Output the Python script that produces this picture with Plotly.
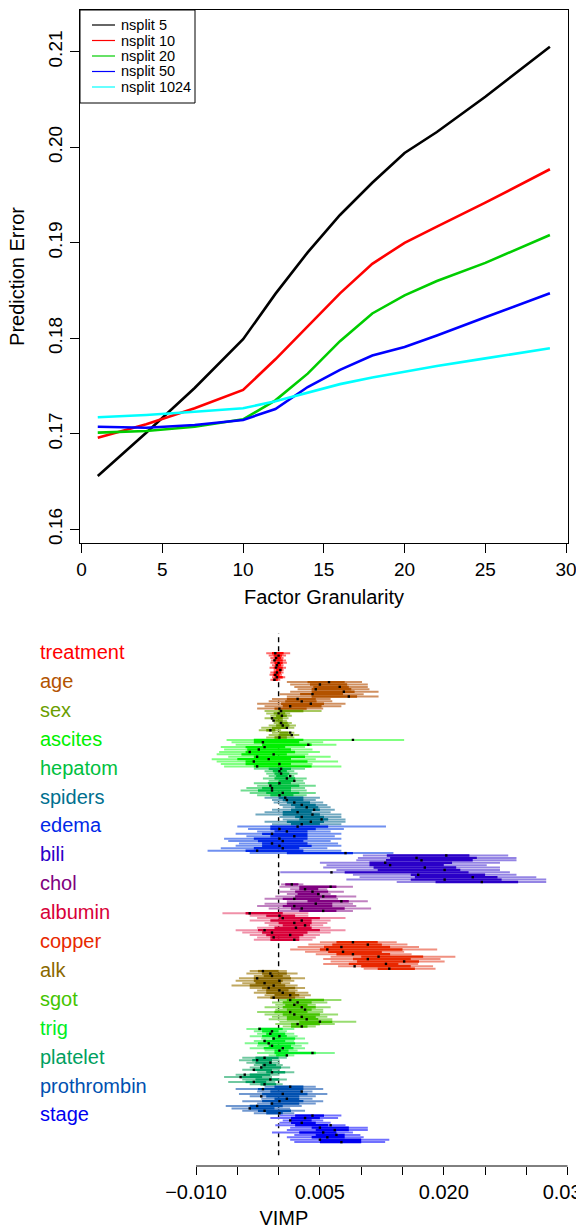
import plotly.graph_objects as go

FONT = "Liberation Sans, Arial, Helvetica, sans-serif"

# ---------------- Top panel: prediction error vs factor granularity ----------------
granularity    = [1, 4, 7, 10, 12, 14, 16, 18, 20, 22, 25, 29]
err_nsplit5    = [0.16558, 0.17010, 0.17480, 0.17990, 0.18465, 0.18900, 0.19291, 0.19629, 0.19940, 0.20160, 0.20530, 0.21053]
err_nsplit10   = [0.16959, 0.17099, 0.17267, 0.17459, 0.17780, 0.18130, 0.18470, 0.18780, 0.19000, 0.19170, 0.19420, 0.19770]
err_nsplit20   = [0.17012, 0.17029, 0.17074, 0.17152, 0.17350, 0.17630, 0.17970, 0.18260, 0.18450, 0.18600, 0.18790, 0.19082]
err_nsplit50   = [0.17074, 0.17064, 0.17092, 0.17145, 0.17260, 0.17490, 0.17670, 0.17820, 0.17910, 0.18030, 0.18220, 0.18471]
err_nsplit1024 = [0.17173, 0.17197, 0.17231, 0.17267, 0.17340, 0.17430, 0.17520, 0.17590, 0.17650, 0.17710, 0.17790, 0.17895]
series_names   = ["nsplit 5", "nsplit 10", "nsplit 20", "nsplit 50", "nsplit 1024"]
series_values  = [err_nsplit5, err_nsplit10, err_nsplit20, err_nsplit50, err_nsplit1024]
series_colors  = ["#000000", "#FF0000", "#00CD00", "#0000FF", "#00FFFF"]
top_xticks     = [0, 5, 10, 15, 20, 25, 30]
top_yticks     = [0.16, 0.17, 0.18, 0.19, 0.20, 0.21]

# ---------------- Bottom panel: VIMP intervals ----------------
# each row: (lower, core lower, estimate, core upper, upper), in units of 1e-3
VIMP_UNIT = 1e-3
vimp_vars = ["treatment", "age", "sex", "ascites", "hepatom", "spiders", "edema", "bili",
             "chol", "albumin", "copper", "alk", "sgot", "trig", "platelet", "prothrombin", "stage"]
core_colors  = ["#FF0000", "#B35300", "#6B9E00", "#00F000", "#00C040", "#00708F", "#0028E8", "#2A00C8",
                "#800080", "#D80038", "#E82800", "#8A6800", "#44C400", "#00EE22", "#00A060", "#0050B0", "#0000F0"]
light_colors = ["#FF6A6A", "#D09060", "#A8C860", "#80FF80", "#70DC90", "#70A8C0", "#7090F0", "#9484E4",
                "#C080C0", "#F090A8", "#F09080", "#C0A860", "#98DC70", "#80F890", "#70C8A0", "#7098D0", "#7070FF"]

treatment = [(-1.5, -0.8, -0.4, 0.6, 1.4), (-1.2, -0.6, 0.0, 0.4, 0.9), (-1.0, -0.5, -0.3, 0.3, 0.6),
             (-0.9, -0.6, -0.5, 0.5, 0.9), (-1.0, -0.5, 0.0, 0.5, 1.0), (-0.8, -0.4, -0.2, 0.3, 0.6),
             (-1.1, -0.6, -0.3, 0.5, 0.9), (-0.6, -0.3, 0.2, 0.4, 0.6), (-1.0, -0.6, -0.2, 0.3, 0.6),
             (-1.1, -0.7, -0.4, 0.1, 0.4), (-0.8, -0.5, -0.2, 0.5, 0.8), (-1.0, -0.7, -0.5, -0.1, 0.2)]
age = [(1.0, 3.5, 6.1, 8.0, 10.1), (1.4, 3.8, 5.0, 8.3, 10.8), (1.9, 4.2, 7.4, 8.5, 10.8),
       (2.3, 4.0, 4.5, 8.8, 11.0), (1.4, 4.0, 7.9, 9.2, 12.1), (0.1, 2.6, 4.1, 7.8, 10.3),
       (1.0, 4.0, 8.5, 9.5, 12.1), (-0.8, 1.0, 2.3, 4.5, 6.3), (-1.2, 0.8, 2.8, 4.6, 6.5),
       (-2.6, 0.3, 3.9, 5.5, 8.1), (-1.7, 0.5, 1.4, 5.2, 7.6), (-2.6, -0.5, 0.1, 3.4, 5.4)]
sex = [(-1.7, 0.0, 0.3, 3.0, 5.2), (-1.5, -0.6, 0.0, 0.8, 1.4), (-1.0, -0.3, 0.4, 1.0, 1.6),
       (-1.7, -0.9, -0.8, 0.5, 1.2), (-0.8, -0.4, -0.6, 0.5, 1.0), (-0.6, 0.0, 0.3, 1.1, 1.6),
       (-1.2, -0.3, 0.5, 1.3, 2.1), (-2.1, -0.8, 1.0, 0.9, 1.9), (-2.4, -1.5, -1.0, -0.4, 0.3),
       (-0.8, 0.1, 1.4, 1.2, 1.9), (-1.2, 0.0, 1.6, 1.6, 2.5), (-1.5, -0.5, 0.1, 1.0, 1.9)]
ascites = [(-6.3, -3.0, 9.0, 3.0, 15.2), (-5.7, -3.0, -1.9, 2.5, 5.4), (-5.2, -2.0, 3.6, 4.0, 7.0),
           (-7.0, -4.0, -1.7, 0.8, 3.2), (-6.6, -3.8, -2.4, 1.5, 4.1), (-7.2, -4.0, -3.5, 2.0, 5.0),
           (-7.5, -4.5, -0.6, 1.0, 3.6), (-6.1, -3.0, -2.6, 3.2, 6.3), (-8.1, -5.0, -1.2, 1.5, 4.5),
           (-7.5, -4.0, -3.0, 3.5, 7.2), (-7.0, -4.0, 0.1, 1.5, 4.1), (-6.6, -3.0, -2.6, 4.0, 7.6)]
hepatom = [(-3.0, -1.2, 0.3, 1.5, 3.2), (-1.7, -0.7, 0.1, 1.0, 1.9), (-1.5, -0.5, 0.3, 1.3, 2.3),
           (-1.2, -0.3, 1.4, 1.1, 1.9), (-1.9, -0.5, 1.0, 2.0, 3.4), (-1.2, 0.0, 1.9, 1.8, 3.0),
           (-3.0, -1.3, 0.1, 1.5, 3.2), (-2.6, -1.0, -1.0, 2.5, 4.5), (-3.9, -2.0, -0.8, 1.5, 3.2),
           (-4.6, -2.5, -0.8, 1.5, 3.4), (-3.5, -1.5, 0.5, 2.5, 4.5), (-2.6, -1.0, 0.1, 1.8, 3.4)]
spiders = [(-1.7, 0.0, 0.8, 3.0, 5.0), (-0.8, 0.5, 1.0, 3.0, 4.5), (-0.6, 1.0, 1.9, 3.8, 5.4),
           (0.1, 1.5, 2.8, 4.5, 5.9), (0.5, 2.0, 3.4, 4.8, 6.3), (-0.8, 1.5, 4.3, 5.0, 6.8),
           (-1.7, 0.5, 2.3, 4.0, 6.3), (-2.8, 0.5, 4.1, 5.0, 7.6), (0.1, 2.0, 2.8, 5.5, 7.6),
           (0.5, 2.5, 5.2, 6.0, 8.1), (-1.7, 1.0, 3.9, 5.5, 8.1), (-0.8, 1.5, 2.8, 5.0, 7.6)]
edema = [(-5.0, -1.0, 2.3, 6.0, 13.0), (-3.7, -1.0, 0.1, 4.5, 7.9), (-2.6, -0.5, 1.0, 3.5, 6.3),
         (-5.2, -2.0, -0.8, 3.5, 7.6), (-3.9, -1.0, 1.9, 3.5, 6.8), (-6.6, -3.0, 0.1, 3.5, 7.6),
         (-6.1, -2.5, 0.5, 3.0, 6.3), (-4.8, -2.0, -0.8, 3.5, 7.2), (-5.2, -2.0, 0.1, 4.0, 7.6),
         (-7.0, -3.0, 0.5, 2.5, 5.9), (-8.6, -4.0, -2.6, 3.0, 7.6), (-3.5, 1.0, 8.1, 9.0, 13.9)]
bili = [(10.2, 13.1, 20.3, 23.1, 27.8), (9.6, 13.5, 16.7, 24.0, 28.8), (9.4, 13.0, 17.3, 23.5, 28.8),
        (5.0, 11.0, 12.9, 21.0, 26.8), (5.8, 11.0, 13.5, 20.0, 25.2), (5.4, 11.5, 17.7, 21.5, 26.8),
        (7.0, 12.0, 20.1, 22.0, 26.8), (0.2, 8.0, 6.4, 23.0, 28.0), (9.0, 16.0, 16.9, 25.0, 28.8),
        (9.8, 16.5, 23.5, 26.5, 31.2), (8.2, 16.0, 20.1, 27.0, 32.4), (14.3, 19.0, 24.6, 29.0, 32.4)]
chol = [(0.3, 0.8, 1.6, 2.4, 3.0), (0.1, 2.5, 6.3, 7.0, 9.0), (1.4, 2.5, 3.2, 4.8, 5.9),
        (0.1, 2.0, 4.1, 6.0, 7.9), (1.0, 2.3, 4.8, 5.0, 6.3), (-0.4, 2.0, 5.4, 7.0, 9.4),
        (-1.7, 0.5, 1.9, 5.0, 7.2), (1.0, 3.5, 7.6, 8.5, 10.8), (-1.7, 1.0, 4.5, 6.5, 9.0),
        (-2.6, 0.5, 1.9, 6.5, 9.4), (-1.2, 1.5, 2.8, 8.0, 11.2), (0.1, 2.5, 5.4, 7.0, 9.0)]
albumin = [(-6.8, -4.0, -3.5, 0.5, 3.6), (-3.5, -1.5, 0.1, 2.0, 3.6), (-2.6, 0.0, 0.5, 5.0, 8.1),
           (-3.5, -1.0, 2.8, 4.0, 6.3), (-1.7, 0.0, 1.9, 4.0, 5.9), (-1.2, 0.5, 3.2, 3.8, 5.4),
           (-2.6, -0.5, 2.1, 4.0, 6.3), (-5.2, -2.5, -1.7, 5.0, 8.1), (-4.4, -2.0, -0.8, 3.5, 6.3),
           (-3.5, -1.5, 1.4, 3.0, 5.0), (-2.6, -1.0, -0.6, 2.5, 4.5), (-3.0, -1.0, 1.9, 2.5, 4.1)]
copper = [(5.0, 7.0, 9.0, 12.0, 14.3), (3.6, 6.5, 10.8, 12.5, 15.6), (2.3, 5.5, 7.6, 13.5, 17.0),
          (1.4, 5.0, 5.9, 15.0, 19.2), (3.2, 6.0, 7.8, 12.5, 15.2), (4.5, 7.0, 9.0, 13.5, 16.1),
          (6.3, 10.0, 12.1, 17.5, 21.4), (5.4, 9.0, 10.8, 16.0, 19.6), (6.3, 9.5, 15.2, 17.0, 20.1),
          (5.4, 8.5, 13.0, 14.5, 16.9), (7.2, 10.0, 9.2, 16.0, 18.7), (10.3, 12.0, 13.4, 16.5, 19.0)]
alk = [(-3.5, -2.5, -1.9, 0.0, 1.0), (-3.9, -2.0, -1.0, 1.0, 2.3), (-3.0, -1.8, -0.8, 0.5, 1.4),
       (-4.8, -3.0, -2.6, 1.5, 3.2), (-5.2, -3.0, 0.1, 0.5, 1.9), (-4.4, -2.8, -1.7, 0.3, 1.4),
       (-5.7, -3.5, -0.6, 0.8, 2.3), (-3.5, -2.0, -1.2, 2.0, 3.2), (-2.6, -1.5, 0.1, 1.2, 2.3),
       (-3.0, -1.5, 0.5, 2.0, 3.6), (-1.7, -0.5, 1.4, 2.5, 3.9), (-2.6, -1.0, -0.6, 2.0, 3.2)]
sgot = [(0.1, 1.0, 1.4, 5.5, 7.6), (-0.8, 0.5, 2.3, 4.0, 5.9), (-0.4, 0.8, 1.9, 3.5, 4.5),
        (-1.7, 0.5, 2.8, 4.5, 6.3), (-0.4, 1.0, 3.2, 4.0, 5.4), (-2.6, -0.5, 1.4, 3.5, 5.4),
        (-1.7, 0.5, 1.9, 5.0, 7.2), (-0.8, 1.0, 2.8, 4.5, 5.9), (-1.2, 1.0, 3.4, 4.8, 6.5),
        (0.1, 2.5, 5.0, 6.5, 9.4), (-0.4, 1.5, 2.3, 5.0, 6.8), (0.5, 1.5, 2.8, 3.5, 4.5)]
trig = [(-3.9, -2.5, -2.3, 0.5, 1.9), (-3.0, -2.0, -0.8, 0.0, 1.0), (-2.6, -1.5, -1.0, 0.8, 1.9),
        (-3.5, -2.0, 0.1, 1.0, 2.3), (-2.1, -0.8, -0.6, 2.0, 3.2), (-3.0, -1.8, -1.7, 0.8, 1.9),
        (-4.1, -2.5, -1.2, 2.0, 3.6), (-2.6, -1.2, -0.8, 1.5, 2.8), (-3.5, -1.8, 0.5, 1.8, 3.2),
        (-1.7, -0.5, 0.1, 1.2, 2.3), (-2.6, -0.5, 4.1, 4.5, 6.8), (-1.2, -0.3, 1.0, 1.0, 1.9)]
platelet = [(-4.4, -2.8, -1.7, 0.0, 1.0), (-4.8, -3.2, -2.6, -0.8, 0.1), (-3.9, -2.8, -1.0, -0.8, 0.1),
            (-3.0, -2.0, -1.7, -0.3, 0.5), (-3.5, -2.2, -2.1, 0.3, 1.4), (-4.4, -3.0, -3.0, -0.8, 0.1),
            (-2.6, -1.5, -0.8, 0.8, 1.9), (-5.2, -3.5, -4.1, -1.0, 0.1), (-6.6, -4.5, -4.6, -2.0, -0.8),
            (-4.4, -2.8, -1.0, 0.0, 1.0), (-6.1, -4.0, -3.0, -1.5, -0.4), (-3.5, -2.2, -1.7, -0.3, 0.5)]
prothrombin = [(-1.7, -0.5, 1.4, 3.0, 4.5), (-5.2, -2.5, -1.9, 3.0, 5.4), (-2.6, -1.0, 2.8, 2.8, 4.1),
               (-4.8, -2.0, 0.5, 3.5, 5.9), (-3.5, -1.5, -2.1, 2.5, 4.5), (-2.1, -0.5, 1.0, 2.5, 4.1),
               (-4.4, -2.0, 0.1, 3.0, 5.4), (-2.6, -1.0, -0.8, 2.5, 4.5), (-6.4, -3.5, -2.6, 0.5, 2.8),
               (-5.7, -3.5, -3.5, -0.5, 1.4), (-4.4, -2.5, -1.7, 1.5, 3.2), (-3.0, -1.5, 0.1, 0.5, 1.9)]
stage = [(0.1, 2.0, 4.1, 5.5, 7.6), (-1.0, 1.5, 3.2, 5.0, 7.2), (0.5, 1.5, 1.4, 4.0, 5.4),
         (0.1, 1.5, 2.8, 4.5, 6.3), (-0.4, 2.0, 6.3, 6.0, 8.1), (1.4, 4.0, 5.0, 8.5, 10.8),
         (1.0, 4.5, 6.8, 8.5, 10.8), (-0.8, 2.5, 5.4, 7.0, 9.0), (1.9, 4.5, 7.0, 8.0, 9.9),
         (1.0, 4.0, 5.9, 8.0, 10.3), (1.4, 5.0, 5.0, 10.0, 13.4), (1.9, 5.0, 7.6, 10.0, 12.9)]
vimp_rows = [treatment, age, sex, ascites, hepatom, spiders, edema, bili,
             chol, albumin, copper, alk, sgot, trig, platelet, prothrombin, stage]
vimp_ticks      = [-0.010, -0.005, 0.000, 0.005, 0.010, 0.015, 0.020, 0.025, 0.030, 0.035]
vimp_ticklabels = ["\u22120.010", "", "", "0.005", "", "", "0.020", "", "", "0.035"]

# ---------------- layout geometry (pixels of the 576 x 1230 page) ----------------
W, H = 576, 1230
def px_x(p): return p / W
def px_y(p): return 1 - p / H

fig = go.Figure()

# top panel lines
for name, vals, col in zip(series_names, series_values, series_colors):
    fig.add_trace(go.Scatter(x=granularity, y=vals, mode="lines", name=name,
                             line=dict(color=col, width=2.6), showlegend=False,
                             xaxis="x", yaxis="y"))

# bottom panel interval rows
dots_x, dots_y = [], []
for i, (rows, cc, lc) in enumerate(zip(vimp_rows, core_colors, light_colors)):
    n = len(rows)
    lx, ly, cx, cy = [], [], [], []
    for j, (lo, clo, est, chi, hi) in enumerate(rows):
        yv = i + (j + 0.5) / n
        lx += [lo * VIMP_UNIT, hi * VIMP_UNIT, None]
        ly += [yv, yv, None]
        cx += [clo * VIMP_UNIT, chi * VIMP_UNIT, None]
        cy += [yv, yv, None]
        dots_x.append(est * VIMP_UNIT)
        dots_y.append(yv)
    fig.add_trace(go.Scatter(x=lx, y=ly, mode="lines", line=dict(color=lc, width=2.0),
                             showlegend=False, hoverinfo="skip", xaxis="x2", yaxis="y2"))
    fig.add_trace(go.Scatter(x=cx, y=cy, mode="lines", line=dict(color=cc, width=2.4),
                             showlegend=False, hoverinfo="skip", xaxis="x2", yaxis="y2"))
fig.add_trace(go.Scatter(x=dots_x, y=dots_y, mode="markers",
                         marker=dict(symbol="square", size=2.4, color="black", line=dict(width=0)),
                         showlegend=False, hoverinfo="skip", xaxis="x2", yaxis="y2"))

shapes = []
annotations = []

# manual legend (thin sample lines as in the original)
lg_x0, lg_x1, lg_y0, lg_y1 = 80, 195, 10, 103
shapes.append(dict(type="rect", xref="paper", yref="paper",
                   x0=px_x(lg_x0), x1=px_x(lg_x1), y0=px_y(lg_y1), y1=px_y(lg_y0),
                   line=dict(color="black", width=1), fillcolor="white", layer="above"))
for k, (name, col) in enumerate(zip(series_names, series_colors)):
    yy = 25 + k * 15.5
    shapes.append(dict(type="line", xref="paper", yref="paper",
                       x0=px_x(92), x1=px_x(115), y0=px_y(yy), y1=px_y(yy),
                       line=dict(color=col, width=1.2), layer="above"))
    annotations.append(dict(xref="paper", yref="paper", x=px_x(119), y=px_y(yy),
                            xanchor="left", yanchor="middle", showarrow=False, text=name,
                            font=dict(family=FONT, size=14.5, color="black")))

# dashed zero line and partial axis line for bottom panel
shapes.append(dict(type="line", xref="x2", yref="y2 domain", x0=0, x1=0, y0=0.02, y1=1,
                   line=dict(color="black", width=1.4, dash="5px,4px"), layer="below"))
shapes.append(dict(type="line", xref="x2", yref="y2 domain", x0=vimp_ticks[0], x1=vimp_ticks[-1],
                   y0=0, y1=0, line=dict(color="black", width=1)))

# variable labels
for i, (v, cc) in enumerate(zip(vimp_vars, core_colors)):
    annotations.append(dict(xref="paper", yref="y2", x=px_x(38), y=i, xanchor="left",
                            yanchor="middle", showarrow=False, text=v,
                            font=dict(family=FONT, size=20, color=cc)))

fig.update_layout(
    width=W, height=H, margin=dict(l=0, r=0, t=0, b=0),
    paper_bgcolor="white", plot_bgcolor="white",
    font=dict(family=FONT, color="black"),
    showlegend=False,
    xaxis=dict(domain=[px_x(80), px_x(568)], range=[-0.1, 30.12], anchor="y",
               tickvals=top_xticks, ticks="outside", ticklen=9, tickwidth=1, tickcolor="black",
               showline=True, mirror=True, linecolor="black", linewidth=1,
               showgrid=False, zeroline=False, tickfont=dict(size=19), ticklabeloverflow="allow",
               title=dict(text="Factor Granularity", font=dict(size=20), standoff=11),
               automargin=False),
    yaxis=dict(domain=[px_y(543), px_y(10)], range=[0.158565, 0.214377], anchor="x",
               tickvals=top_yticks, tickformat=".2f", tickangle=-90,
               ticks="outside", ticklen=9, tickwidth=1, tickcolor="black",
               showline=True, mirror=True, linecolor="black", linewidth=1,
               showgrid=False, zeroline=False, tickfont=dict(size=19),
               title=dict(text="Prediction Error", font=dict(size=20), standoff=15),
               automargin=False),
    xaxis2=dict(domain=[0, px_x(567.7)], range=[-0.03373, 0.035], anchor="y2",
                tickvals=vimp_ticks, ticktext=vimp_ticklabels,
                ticks="outside", ticklen=8, tickwidth=1, tickcolor="black",
                showline=False, showgrid=False, zeroline=False, tickfont=dict(size=20),
                ticklabeloverflow="allow",
                title=dict(text="VIMP", font=dict(size=20), standoff=8),
                automargin=False),
    yaxis2=dict(domain=[px_y(1166), px_y(633)], range=[17.785, -0.657], anchor="x2",
                visible=False, showgrid=False, zeroline=False),
    shapes=shapes, annotations=annotations,
)

fig.write_html("out.html", config={"displayModeBar": False},
               post_script="document.body.style.margin='0';")
